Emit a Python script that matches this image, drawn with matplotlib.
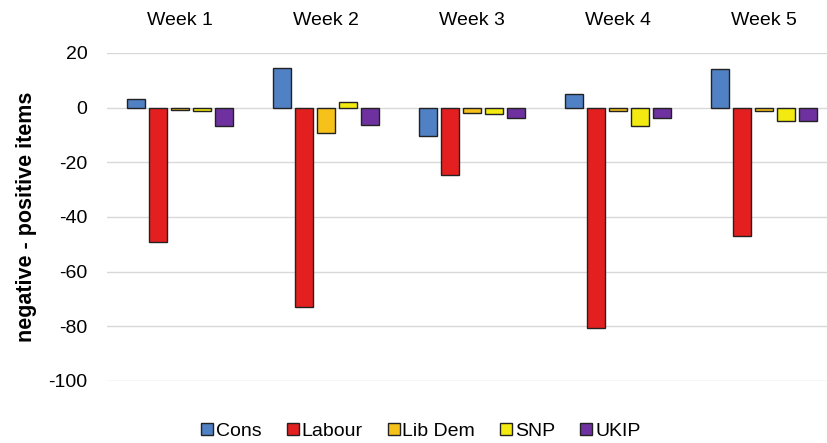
import numpy as np
import matplotlib.pyplot as plt

plt.rcParams['font.family'] = ['Liberation Sans', 'DejaVu Sans']
plt.rcParams['axes.unicode_minus'] = False

weeks = ['Week 1', 'Week 2', 'Week 3', 'Week 4', 'Week 5']
parties = ['Cons', 'Labour', 'Lib Dem', 'SNP', 'UKIP']
cons = [3.3, 14.6, -10.4, 5.1, 14.0]
labour = [-49, -73, -24.7, -80.5, -47]
libdem = [-0.7, -9.2, -1.8, -1.2, -1.2]
snp = [-1.2, 2.0, -2.4, -6.8, -4.9]
ukip = [-6.6, -6.5, -3.7, -3.7, -4.9]
colors = ['#4f81c4', '#e3201f', '#f6c21a', '#f2ea10', '#6f31a0']

fig = plt.figure(figsize=(8.28, 4.43), dpi=100)
ax = fig.add_axes([107 / 828, 1 - 381 / 443, 730 / 828, 328 / 443])

x = np.arange(len(weeks))
pitch = 0.15
width = 0.125
for i, (name, vals) in enumerate(zip(parties, [cons, labour, libdem, snp, ukip])):
    ax.bar(x + (i - 2) * pitch, vals, width, color=colors[i], edgecolor='#222222',
           linewidth=1.0, label=name, zorder=3)

ax.set_ylim(-100, 20)
ax.set_xlim(-0.5, 4.5)
ax.set_yticks(range(-100, 21, 20))
ax.yaxis.grid(True, color='#d9d9d9', linewidth=1, zorder=0)
for s in ax.spines.values():
    s.set_visible(False)
ax.tick_params(axis='y', length=0, pad=14, labelsize=14)
ax.xaxis.tick_top()
ax.set_xticks(x)
ax.set_xticklabels(weeks)
ax.tick_params(axis='x', length=0, pad=17, labelsize=14)
ax.set_ylabel('negative - positive items', fontsize=15.5, fontweight='bold', labelpad=8)

ax.legend(loc='upper center', bbox_to_anchor=(0.43, -0.075), ncol=5, frameon=False,
          fontsize=14, handlelength=0.6, handleheight=0.6, handletextpad=0.15,
          columnspacing=1.3)

fig.savefig('out.png', dpi=100)
